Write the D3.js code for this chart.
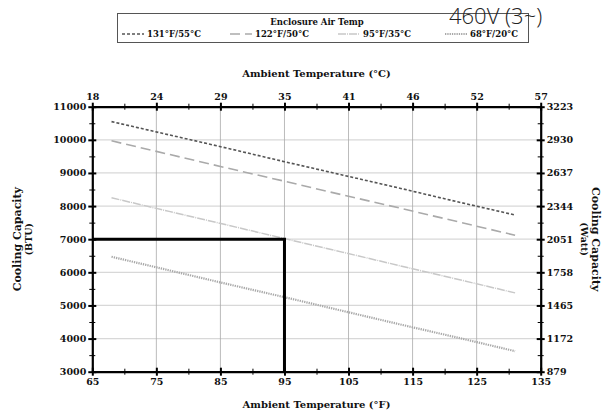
<!DOCTYPE html>
<html>
<head>
<meta charset="utf-8">
<script src="https://cdn.jsdelivr.net/npm/d3@7"></script>
<style>
  body { margin: 0; background: #fff; }
  svg text { font-family: "DejaVu Serif", serif; font-weight: bold; fill: #111; }
</style>
</head>
<body>
<div id="chart"></div>
<script>
// data
var tempF = [68, 77, 86, 95, 104, 113, 122, 131];
var cap131 = [10550, 10150, 9750, 9340, 8940, 8540, 8130, 7730];
var cap122 = [9970, 9560, 9150, 8750, 8340, 7940, 7530, 7120];
var cap95  = [8250, 7840, 7430, 7020, 6610, 6200, 5790, 5380];
var cap68  = [6470, 6060, 5650, 5250, 4840, 4430, 4030, 3620];
var seriesNames = ["131°F/55°C", "122°F/50°C", "95°F/35°C", "68°F/20°C"];

var fTicks = [65, 75, 85, 95, 105, 115, 125, 135];
var cLabels = ["18", "24", "29", "35", "41", "46", "52", "57"];
var btuTicks = [3000, 4000, 5000, 6000, 7000, 8000, 9000, 10000, 11000];
var wattLabels = ["879", "1172", "1465", "1758", "2051", "2344", "2637", "2930", "3223"];
var markF = [65, 95, 95];
var markBtu = [7000, 7000, 3000];

var width = 605, height = 412;
var pLeft = 92.3, pRight = 540.7, pTop = 106.7, pBottom = 371.7;

var svg = d3.select("#chart").append("svg")
    .attr("width", width)
    .attr("height", height);

var x = d3.scaleLinear().domain([65, 135]).range([pLeft, pRight]);
var y = d3.scaleLinear().domain([3000, 11000]).range([pBottom, pTop]);

var minorF = d3.range(70, 135, 10);
var minorBtu = d3.range(3500, 11000, 1000);

// grid
svg.append("g").selectAll("line")
  .data(btuTicks.slice(1, -1))
  .enter().append("line")
    .attr("x1", pLeft).attr("x2", pRight)
    .attr("y1", function(d) { return y(d); })
    .attr("y2", function(d) { return y(d); })
    .attr("stroke", "#d8d8d8")
    .attr("stroke-width", 1.3);

svg.append("g").selectAll("line")
  .data(fTicks.slice(1, -1))
  .enter().append("line")
    .attr("x1", function(d) { return x(d); })
    .attr("x2", function(d) { return x(d); })
    .attr("y1", pTop).attr("y2", pBottom)
    .attr("stroke", "#aaa")
    .attr("stroke-width", 0.8);

// series
var series = [
  {name: seriesNames[0], values: cap131, color: "#555", w: 1.6, dash: "3,2"},
  {name: seriesNames[1], values: cap122, color: "#aaa", w: 1.6, dash: "10,5"},
  {name: seriesNames[2], values: cap95,  color: "#c8c8c8", w: 1.5, dash: "8,1,1,1"},
  {name: seriesNames[3], values: cap68,  color: "#a8a8a8", w: 2.2, dash: "1.3,1"}
];

var line = d3.line()
    .x(function(d, i) { return x(tempF[i]); })
    .y(function(d) { return y(d); });

svg.append("g").selectAll("path")
  .data(series)
  .enter().append("path")
    .attr("fill", "none")
    .attr("stroke", function(d) { return d.color; })
    .attr("stroke-width", function(d) { return d.w; })
    .attr("stroke-dasharray", function(d) { return d.dash; })
    .attr("d", function(d) { return line(d.values); });

// operating point box
svg.append("path")
    .datum(markBtu)
    .attr("fill", "none")
    .attr("stroke", "#000")
    .attr("stroke-width", 3)
    .attr("d", d3.line()
      .x(function(d, i) { return x(markF[i]); })
      .y(function(d) { return y(d); }));

// axes
function styleAxis(g) {
  g.select(".domain").attr("stroke", "#000").attr("stroke-width", 2.2);
  g.selectAll(".tick line").attr("stroke", "#000").attr("stroke-width", 2);
  g.selectAll(".tick text").style("font-size", "9.5px");
}

// minor ticks, crossing the axis line
function minorAxis(axis, pos, attr) {
  svg.append("g")
      .attr("transform", pos)
      .call(axis)
      .call(function(g) {
        g.select(".domain").remove();
        g.selectAll(".tick text").remove();
        g.selectAll(".tick line")
          .attr("stroke", "#000").attr("stroke-width", 1)
          .attr(attr + "1", -3).attr(attr + "2", 3);
      });
}

var xBottom = d3.axisBottom(x).tickValues(fTicks).tickSize(4).tickSizeOuter(0).tickPadding(3);
var xTop = d3.axisTop(x).tickValues(fTicks).tickSize(4).tickSizeOuter(0).tickPadding(3)
    .tickFormat(function(d, i) { return cLabels[i]; });
var yLeft = d3.axisLeft(y).tickValues(btuTicks).tickSize(4).tickSizeOuter(0).tickPadding(2)
    .tickFormat(d3.format("d"));
var yRight = d3.axisRight(y).tickValues(btuTicks).tickSize(4).tickSizeOuter(0).tickPadding(2)
    .tickFormat(function(d, i) { return wattLabels[i]; });

minorAxis(d3.axisBottom(x).tickValues(minorF), "translate(0," + pBottom + ")", "y");
minorAxis(d3.axisTop(x).tickValues(minorF), "translate(0," + pTop + ")", "y");
minorAxis(d3.axisLeft(y).tickValues(minorBtu), "translate(" + pLeft + ",0)", "x");
minorAxis(d3.axisRight(y).tickValues(minorBtu), "translate(" + pRight + ",0)", "x");

svg.append("g").attr("transform", "translate(0," + pBottom + ")").call(xBottom).call(styleAxis)
  .call(function(g) { g.selectAll(".tick line").attr("y1", -4); });
svg.append("g").attr("transform", "translate(0," + pTop + ")").call(xTop).call(styleAxis)
  .call(function(g) { g.selectAll(".tick line").attr("y1", 4); });
svg.append("g").attr("transform", "translate(" + pLeft + ",0)").call(yLeft).call(styleAxis)
  .call(function(g) { g.selectAll(".tick line").attr("x1", 4); });
svg.append("g").attr("transform", "translate(" + pRight + ",0)").call(yRight).call(styleAxis)
  .call(function(g) { g.selectAll(".tick line").attr("x1", -4); });

// axis titles
svg.append("text")
    .attr("x", (pLeft + pRight) / 2).attr("y", 77)
    .attr("text-anchor", "middle")
    .style("font-size", "10px")
    .text("Ambient Temperature (°C)");

svg.append("text")
    .attr("x", (pLeft + pRight) / 2).attr("y", 408)
    .attr("text-anchor", "middle")
    .style("font-size", "10px")
    .text("Ambient Temperature (°F)");

var midY = (pTop + pBottom) / 2;
svg.append("text")
    .attr("transform", "translate(21," + midY + ") rotate(-90)")
    .attr("text-anchor", "middle")
    .style("font-size", "11px")
    .text("Cooling Capacity");
svg.append("text")
    .attr("transform", "translate(32," + midY + ") rotate(-90)")
    .attr("text-anchor", "middle")
    .style("font-size", "9.5px")
    .text("(BTU)");

svg.append("text")
    .attr("transform", "translate(592," + midY + ") rotate(90)")
    .attr("text-anchor", "middle")
    .style("font-size", "11px")
    .text("Cooling Capacity");
svg.append("text")
    .attr("transform", "translate(581," + midY + ") rotate(90)")
    .attr("text-anchor", "middle")
    .style("font-size", "9.5px")
    .text("(Watt)");

// legend
var legend = svg.append("g");
legend.append("rect")
    .attr("x", 117.5).attr("y", 13.5)
    .attr("width", 411).attr("height", 29)
    .attr("fill", "#fff")
    .attr("stroke", "#555")
    .attr("stroke-width", 1);
legend.append("text")
    .attr("x", 317).attr("y", 25)
    .attr("text-anchor", "middle")
    .style("font-size", "8.5px")
    .text("Enclosure Air Temp");

var legendX = [122, 230, 338, 445];
var items = legend.selectAll(".item")
  .data(series)
  .enter().append("g")
    .attr("class", "item")
    .attr("transform", function(d, i) { return "translate(" + legendX[i] + ",37)"; });
items.append("line")
    .attr("x1", 0).attr("x2", 22)
    .attr("y1", -3).attr("y2", -3)
    .attr("stroke", function(d) { return d.color; })
    .attr("stroke-width", function(d) { return d.w; })
    .attr("stroke-dasharray", function(d) { return d.dash; });
items.append("text")
    .attr("x", 25).attr("y", 0)
    .style("font-size", "8.5px")
    .text(function(d) { return d.name; });

svg.append("text")
    .attr("x", 449).attr("y", 24)
    .style("font-family", "'Open Sans', sans-serif")
    .style("font-weight", "300")
    .style("font-size", "22px")
    .style("fill", "#222")
    .text("460V (3~)");
</script>
</body>
</html>
